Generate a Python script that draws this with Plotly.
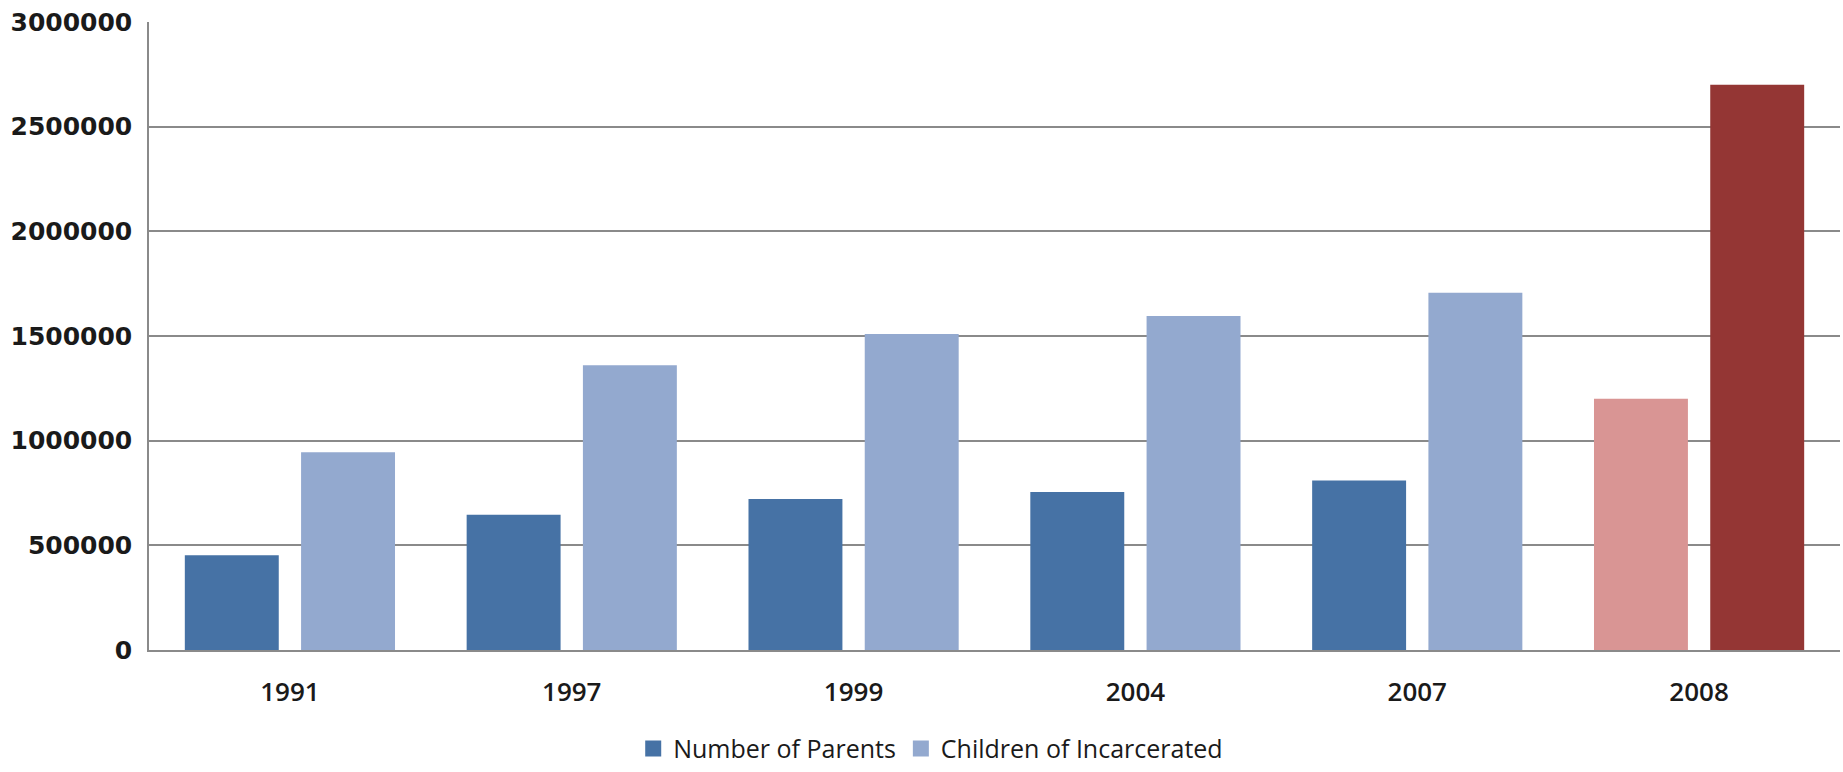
import plotly.graph_objects as go

years = ["1991", "1997", "1999", "2004", "2007", "2008"]
parents = [452500, 646000, 721500, 755000, 809800, 1200000]
children = [945000, 1360000, 1510000, 1595000, 1706600, 2700000]

parents_colors = ["#4672a5"] * 5 + ["#d99594"]
children_colors = ["#93a9cf"] * 5 + ["#943634"]

fig = go.Figure()
fig.add_trace(go.Bar(x=years, y=parents, name="Number of Parents", showlegend=False,
                     marker=dict(color=parents_colors, line=dict(width=0))))
fig.add_trace(go.Bar(x=years, y=children, name="Children of Incarcerated", showlegend=False,
                     marker=dict(color=children_colors, line=dict(width=0))))
# legend entries with square swatches
fig.add_trace(go.Scatter(x=[None], y=[None], mode="markers", name="Number of Parents",
                         marker=dict(symbol="square", size=18, color=parents_colors[0])))
fig.add_trace(go.Scatter(x=[None], y=[None], mode="markers", name="Children of Incarcerated",
                         marker=dict(symbol="square", size=18, color=children_colors[0])))

fig.update_layout(
    width=1843, height=772,
    margin=dict(l=149, r=3, t=22, b=122),
    paper_bgcolor="white", plot_bgcolor="white",
    barmode="group", bargap=0.175, bargroupgap=0.192,
    showlegend=True,
    legend=dict(orientation="h", x=0.505, xref="container", xanchor="center",
                y=0.03, yref="container", yanchor="middle",
                font=dict(family="Open Sans", size=25, color="#1a1a1a"),
                itemwidth=30, traceorder="normal", itemsizing="trace"),
    font=dict(family="Open Sans", color="#1a1a1a"),
)
fig.update_yaxes(range=[0, 3000000], tickvals=[0, 500000, 1000000, 1500000, 2000000, 2500000, 3000000],
                 ticktext=["0", "500000", "1000000", "1500000", "2000000", "2500000", "3000000"],
                 showgrid=True, gridcolor="#8a8a8a", gridwidth=1.5,
                 showline=True, linecolor="#8a8a8a", linewidth=1.5,
                 zeroline=False, ticks="", ticklabelstandoff=10, automargin=False,
                 tickfont=dict(family="DejaVu Sans", size=25, color="#1a1a1a", weight="bold"))
fig.update_xaxes(type="category", showline=True, linecolor="#8a8a8a", linewidth=1.5,
                 ticks="", ticklabelstandoff=18, automargin=False,
                 tickfont=dict(family="Open Sans", size=26, color="#1a1a1a", weight=600))

fig.write_html("out.html")
